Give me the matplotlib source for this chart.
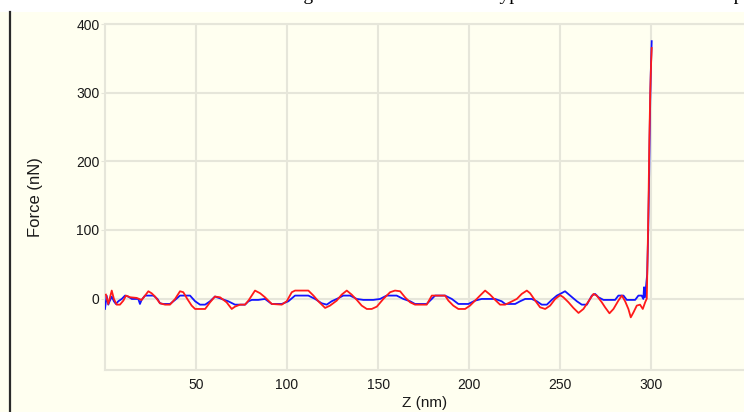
import matplotlib
matplotlib.use("Agg")
import matplotlib.pyplot as plt
from matplotlib.patches import Rectangle
from matplotlib.lines import Line2D

# blue curve (approach)
z_blue = [0, 0.9, 1.8, 2.7, 3.7, 4.9, 6.0, 7.3, 9.2, 11.0, 12.8, 14.7, 18.3, 19.2, 20.1,
          22.0, 26.6, 28.8, 30.2, 32.0, 35.7, 38.5, 41.2, 46.7, 49.5, 52.2, 55.0, 57.7,
          60.4, 64.1, 67.7, 71.4, 76.9, 78.8, 80.6, 84.2, 87.9, 91.6, 97.1, 100.7, 104.4,
          111.7, 115.4, 119.0, 121.8, 124.5, 127.3, 130.9, 134.6, 138.3, 141.9, 147.4,
          151.1, 154.7, 160.2, 163.9, 167.6, 170.3, 176.7, 179.5, 181.3, 186.8, 190.5,
          194.1, 199.6, 203.3, 206.9, 214.3, 217.9, 219.8, 225.3, 228.0, 230.8, 234.4,
          237.2, 239.9, 242.7, 245.4, 248.2, 250.0, 252.7, 255.5, 259.2, 261.9, 264.7,
          267.4, 269.2, 271.1, 273.8, 280.2, 282.0, 284.8, 286.6, 291.2, 293.0, 294.8,
          295.7, 296.1, 296.6, 297.8, 298.4, 298.9, 299.3, 299.8, 300.3]
f_blue = [-15, 4.4, -8.8, -2.9, 2.9, -3.9, -7.8, -3.9, -0.5, 4.4, 2.9, -0.5, -0.5, -7.8, -1.9,
          4.4, 4.4, -0.5, -6.8, -7.8, -7.8, -1.9, 4.4, 4.4, -3.9, -8.8, -8.8, -3.9,
          3.0, -0.5, -3.9, -8.8, -8.8, -3.9, -1.9, -1.9, -0.5, -7.8, -7.8, -3.9, 4.4,
          4.4, -0.5, -6.8, -8.8, -3.9, -0.5, 4.4, 4.4, -0.5, -1.9, -1.9,
          -0.5, 4.4, 4.4, -0.5, -3.9, -7.8, -7.8, -0.5, 4.4, 4.4, -0.5,
          -7.8, -7.8, -2.9, -0.5, -0.5, -3.9, -7.8, -7.8, -3.9, -0.5, -0.5,
          -3.9, -8.8, -8.8, -1.9, 4.4, 6.8, 10.7, 4.4, -3.9, -8.8, -8.8,
          4.4, 6.8, 1.9, -1.9, -1.9, 4.4, 4.4, -1.9, -1.9, 4.4, 4.4,
          -0.5, 16.6, 2.0, 35, 100, 180, 260, 330, 375]

# red curve (retract)
z_red = [0.5, 1.8, 3.7, 4.9, 6.4, 8.2, 10.1, 11.5, 13.7, 17.4, 20.1, 22.0, 23.8, 25.6,
         27.5, 30.2, 33.0, 35.7, 38.5, 41.2, 43.0, 45.2, 47.6, 49.5, 55.0, 57.7, 60.4,
         63.2, 66.8, 69.6, 71.4, 74.2, 76.9, 78.8, 82.4, 85.2, 87.9, 91.6, 97.1, 99.8,
         102.6, 104.4, 111.7, 114.5, 117.2, 120.9, 123.6, 127.3, 130.0, 132.8, 135.5,
         138.3, 141.0, 143.8, 146.5, 149.3, 152.9, 156.6, 159.3, 162.1, 164.8, 167.6,
         170.3, 176.7, 179.5, 182.2, 186.8, 188.6, 191.3, 194.1, 197.8, 200.5, 203.3,
         206.0, 208.8, 211.5, 214.3, 217.0, 219.8, 222.5, 226.2, 228.9, 231.7, 233.5,
         236.3, 239.0, 241.8, 244.5, 247.3, 250.0, 251.8, 254.6, 257.3, 260.1, 262.8,
         265.6, 268.3, 270.1, 272.9, 274.7, 277.1, 279.3, 282.0, 283.9, 285.7, 287.5,
         288.8, 290.3, 292.1, 293.9, 295.4, 296.7, 297.6, 298.1, 298.6, 299.0, 299.5,
         300.0, 300.3]
f_red = [5.8, -7.8, 11.7, -0.5, -8.8, -8.8, -2.9, 4.4, 2.0, 1.0, -2.0, 4.4, 10.7, 7.8,
         3.0, -6.8, -8.8, -8.8, -0.5, 10.7, 9.3, -0.5, -10.2, -15.1, -15.1, -5.4, 3.0,
         1.9, -5.4, -15.1, -11.7, -8.8, -8.8, -2.9, 11.7, 7.8, 1.9, -7.8, -8.8, -3.9,
         9.3, 11.7, 11.7, 4.4, -3.9, -13.6, -10.2, -2.9, 5.8, 11.7, 5.8,
         -1.9, -10.2, -15.1, -15.1, -11.7, -0.5, 9.3, 11.7, 10.7, 1.9, -5.4,
         -8.8, -8.8, 4.4, 4.4, 4.4, -2.9, -10.2, -15.1, -15.1, -10.2, -2.9,
         4.4, 11.7, 5.8, -1.9, -8.8, -8.8, -5.4, -0.5, 6.8, 11.7, 7.8,
         -2.9, -12.7, -15.1, -10.2, -0.5, 5.0, 1.9, -5.4, -13.6, -20.9, -15.1,
         -3.9, 6.8, 4.4, -5.4, -12.7, -21.4, -15.1, -2.9, 4.4, -3.9, -15.1,
         -27.3, -20.0, -10.2, -8.8, -15.1, -5.4, 0.0, 70, 150, 230, 300,
         345, 365]

x_ticks = [50, 100, 150, 200, 250, 300]
y_ticks = [0, 100, 200, 300, 400]

W, H = 744, 412
bg = "#FFFFF0"
grid_col = "#E6E6DA"
text_col = "#1a1a1a"
font = "Liberation Sans"

fig = plt.figure(figsize=(W / 100, H / 100), dpi=100, facecolor=bg)
ax = fig.add_axes([105 / W, 1 - 370 / H, 1 - 105 / W, (370 - 24) / H])
ax.set_facecolor(bg)

ax.plot(z_blue, f_blue, color="#1414FF", lw=1.3, zorder=3)
ax.plot(z_red, f_red, color="#FF1A1A", lw=1.3, zorder=4)

ax.set_xlim(0, 351)
ax.set_ylim(-104, 400)
ax.set_xticks(x_ticks)
ax.set_yticks(y_ticks)
ax.grid(True, color=grid_col, lw=1.5, zorder=0)

for side in ["top", "bottom", "left"]:
    ax.spines[side].set_color(grid_col)
    ax.spines[side].set_linewidth(1.5)
ax.spines["right"].set_visible(False)

ax.tick_params(axis="y", length=3, color=grid_col, pad=1, labelsize=10, labelcolor=text_col)
ax.tick_params(axis="x", length=0, pad=6, labelsize=10, labelcolor=text_col)
for lab in ax.get_xticklabels() + ax.get_yticklabels():
    lab.set_fontfamily(font)

ax.set_xlabel("Z (nm)", fontsize=11, family=font, color=text_col, labelpad=3)
ax.set_ylabel("Force (nN)", fontsize=12, family=font, color=text_col, labelpad=24)

# white strip on top with the cut-off caption, and dark rule on the left
fig.patches.append(Rectangle((0, 1 - 12 / H), 1, 12 / H, transform=fig.transFigure,
                             facecolor="white", edgecolor="none", zorder=0))
fig.lines.append(Line2D([10 / W, 10 / W], [0, 1 - 12 / H], transform=fig.transFigure,
                        color="#2a2a2a", lw=1.6))
cap_y = 1 + 0.5 / H
fig.text(248 / W, cap_y, "Loading", family="Liberation Serif", fontsize=14, va="baseline")
fig.text(495 / W, cap_y, "typical", family="Liberation Serif", fontsize=14, va="baseline")
fig.text(702 / W, cap_y, "sample", family="Liberation Serif", fontsize=14, va="baseline")

fig.savefig("out.png", dpi=100, facecolor=fig.get_facecolor())
